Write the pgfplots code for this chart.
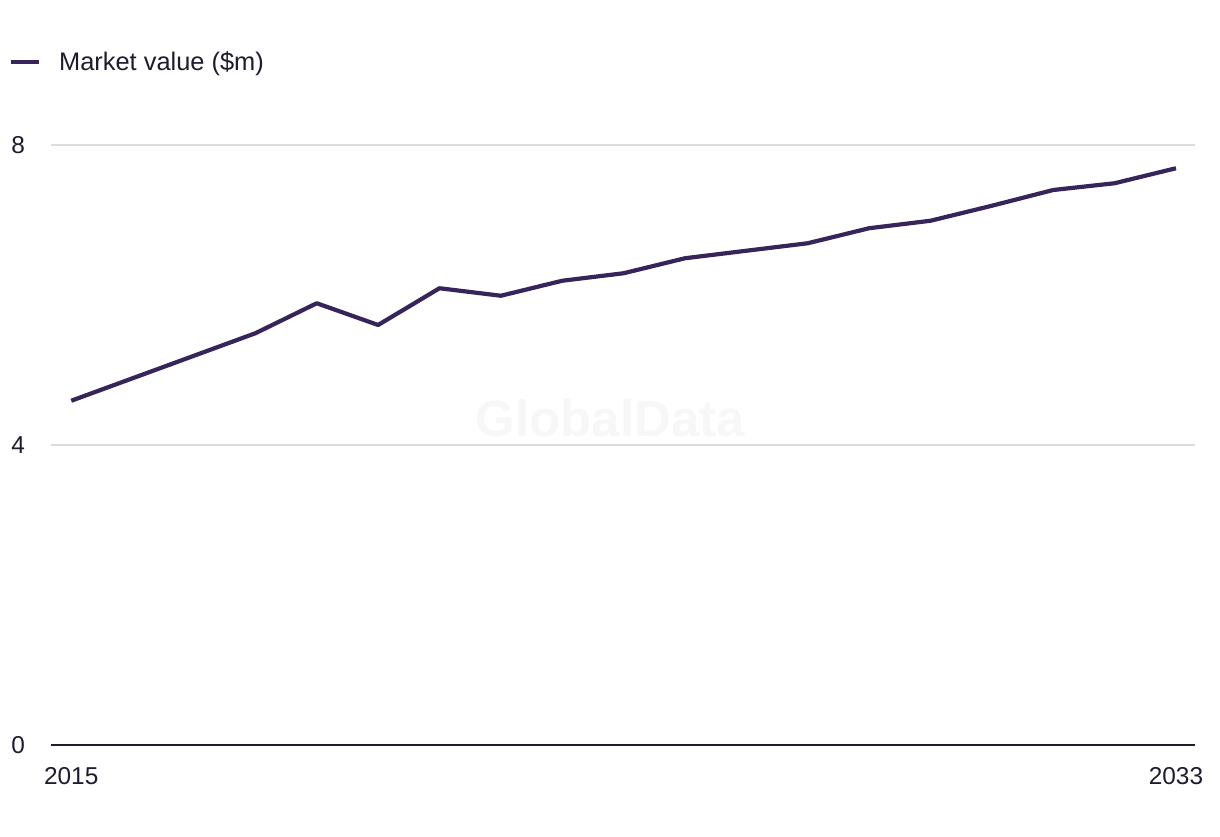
\documentclass[border=0pt]{standalone}
\usepackage{fontspec}
\setmainfont{Liberation Sans}
\usepackage{pgfplots}
\pgfplotsset{compat=1.18}
\definecolor{lineC}{HTML}{36245A}
\definecolor{txtC}{HTML}{1C1C2E}
\definecolor{gridC}{HTML}{DCDCDC}
\begin{document}
\begin{tikzpicture}
\useasboundingbox (0,0) rectangle (610pt,418pt);
\begin{axis}[
  at={(25.5pt,45.5pt)}, anchor=south west,
  scale only axis, width=572pt, height=300pt,
  xmin=2014.67, xmax=2033.31, ymin=0, ymax=8,
  axis x line*=bottom, axis y line*=left,
  x axis line style={draw=txtC, line width=1pt, -},
  y axis line style={draw=none},
  xtick={2015,2033}, ytick={0,4,8}, yticklabels={},
  xticklabel style={font=\fontsize{12.2}{14}\selectfont, text=txtC, /pgf/number format/1000 sep={}},
  major tick length=0pt,
  xticklabel shift=7.5pt,
  ymajorgrids, grid style={draw=gridC, line width=0.6pt},
  /pgf/number format/assume math mode=true,
  clip=false,
  legend style={at={(-0.037,1.138)}, anchor=west, draw=none, fill=none, inner sep=0pt,
     font=\fontsize{12.7}{15}\selectfont, text=txtC, legend cell align=left},
  legend image code/.code={\draw[#1, line width=2pt] (0pt,0pt) -- (14pt,0pt); \path (21pt,0pt);},
]
\node[text=black!3, font=\bfseries\fontsize{25.5}{28}\selectfont] at (axis cs:2023.78,4.36) {GlobalData};
\addplot[draw=lineC, line width=2.1pt, line join=round] coordinates {
(2015,4.59) (2016,4.89) (2017,5.19) (2018,5.49) (2019,5.89) (2020,5.60)
(2021,6.09) (2022,5.99) (2023,6.19) (2024,6.29) (2025,6.49) (2026,6.59)
(2027,6.69) (2028,6.89) (2029,6.99) (2030,7.19) (2031,7.40) (2032,7.49) (2033,7.69)
};
\addlegendentry{Market value (\$m)}
\foreach \v in {0,4,8} {
  \edef\tmp{\noexpand\node[anchor=west, text=txtC, font=\noexpand\fontsize{12.2}{14}\noexpand\selectfont, inner sep=0pt] at ([xshift=-20pt]axis cs:2014.67,\v) {\v};}
  \tmp
}
\end{axis}
\end{tikzpicture}
\end{document}
